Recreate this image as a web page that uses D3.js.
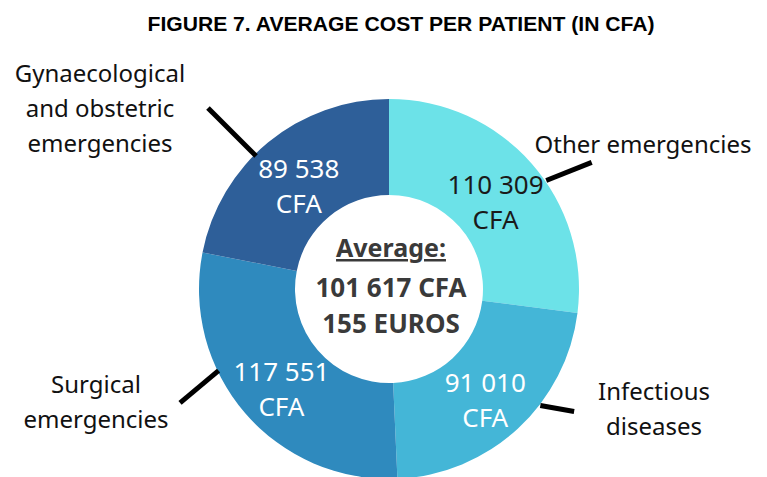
<!DOCTYPE html>
<html>
<head>
<meta charset="utf-8">
<script src="https://cdn.jsdelivr.net/npm/d3@7"></script>
<style>
  body { margin: 0; background: #fff; }
  svg { display: block; }
</style>
</head>
<body>
<div id="chart"></div>
<script>
// data
const categories = ["Other emergencies", "Infectious diseases", "Surgical emergencies", "Gynaecological and obstetric emergencies"];
const costs = [110309, 91010, 117551, 89538];
const averageCfa = 101617;
const averageEuros = 155;

// label lines for each category (manual wrapping like the original)
const labelLines = [
    ["Other emergencies"],
    ["Infectious", "diseases"],
    ["Surgical", "emergencies"],
    ["Gynaecological", "and obstetric", "emergencies"]
];

const colors = ["#6ce2e8", "#44b6d7", "#2f8abe", "#2e5f99"];
const valueColors = ["#1a1a1a", "#fff", "#fff", "#fff"];

// where the outside labels and leader lines go (degrees clockwise from 12 o'clock)
const layout = [
    { lx: 643, ly: 153, a0: 55.4, r0: 191, a1: 58, r1: 239 },
    { lx: 654, ly: 400, a0: 127.6, r0: 191, a1: 123.5, r1: 222 },
    { lx: 96, ly: 393, a0: 244.4, r0: 189, a1: 241.4, r1: 238 },
    { lx: 100, ly: 82, a0: 315, r0: 188, a1: 315, r1: 256 }
];

const width = 767, height = 477;
const cx = 389, cy = 289;
const outerR = 190, innerR = 94;

const fmt = (v) => d3.format(",")(v).replace(/,/g, " ");
const rad = (deg) => deg * Math.PI / 180;

const svg = d3.select("#chart")
    .append("svg")
    .attr("width", width)
    .attr("height", height);

svg.append("text")
    .attr("x", 401)
    .attr("y", 31)
    .attr("text-anchor", "middle")
    .style("font-family", "'Liberation Sans', Arial, sans-serif")
    .style("font-weight", "bold")
    .style("font-size", "20px")
    .attr("textLength", 507)
    .attr("lengthAdjust", "spacingAndGlyphs")
    .text("FIGURE 7. AVERAGE COST PER PATIENT (IN CFA)");

const pie = d3.pie().sort(null).value(d => d);
const arcs = pie(costs);

const arc = d3.arc().innerRadius(innerR).outerRadius(outerR);

const g = svg.append("g").attr("transform", `translate(${cx},${cy})`);

g.selectAll(".slice")
    .data(arcs)
    .enter().append("path")
    .attr("class", "slice")
    .attr("d", arc)
    .attr("fill", (d, i) => colors[i]);

// values inside the slices
const vals = g.selectAll(".val")
    .data(arcs)
    .enter().append("text")
    .attr("class", "val")
    .attr("transform", d => `translate(${arc.centroid(d)})`)
    .attr("text-anchor", "middle")
    .style("font-family", "'Noto Sans', sans-serif")
    .style("font-size", "26px")
    .attr("fill", (d, i) => valueColors[i]);

vals.append("tspan").attr("x", 0).attr("y", -1).text(d => fmt(d.data));
vals.append("tspan").attr("x", 0).attr("y", 34).text("CFA");

// leader lines
g.selectAll(".leader")
    .data(layout)
    .enter().append("line")
    .attr("class", "leader")
    .attr("x1", d => d3.pointRadial(rad(d.a0), d.r0)[0])
    .attr("y1", d => d3.pointRadial(rad(d.a0), d.r0)[1])
    .attr("x2", d => d3.pointRadial(rad(d.a1), d.r1)[0])
    .attr("y2", d => d3.pointRadial(rad(d.a1), d.r1)[1])
    .attr("stroke", "#000")
    .attr("stroke-width", 5);

// category labels
const labels = svg.selectAll(".cat")
    .data(categories)
    .enter().append("text")
    .attr("class", "cat")
    .attr("text-anchor", "middle")
    .style("font-family", "'Noto Sans', sans-serif")
    .style("font-size", "24px")
    .attr("fill", "#111");

labels.each(function (d, i) {
    const el = d3.select(this);
    labelLines[i].forEach((line, k) => {
        el.append("tspan")
            .attr("x", layout[i].lx)
            .attr("y", layout[i].ly + k * 35)
            .text(line);
    });
});

// centre text
const centre = svg.append("g")
    .attr("transform", `translate(${cx + 2},0)`)
    .style("font-family", "'Noto Sans', sans-serif")
    .style("font-weight", "bold")
    .attr("fill", "#3a3a3a")
    .attr("text-anchor", "middle");

centre.append("text")
    .attr("y", 257)
    .style("font-size", "25px")
    .style("text-decoration", "underline")
    .text("Average:");

centre.append("text")
    .attr("y", 297)
    .style("font-size", "26px")
    .text(fmt(averageCfa) + " CFA");

centre.append("text")
    .attr("y", 333)
    .style("font-size", "26px")
    .text(averageEuros + " EUROS");
</script>
</body>
</html>
